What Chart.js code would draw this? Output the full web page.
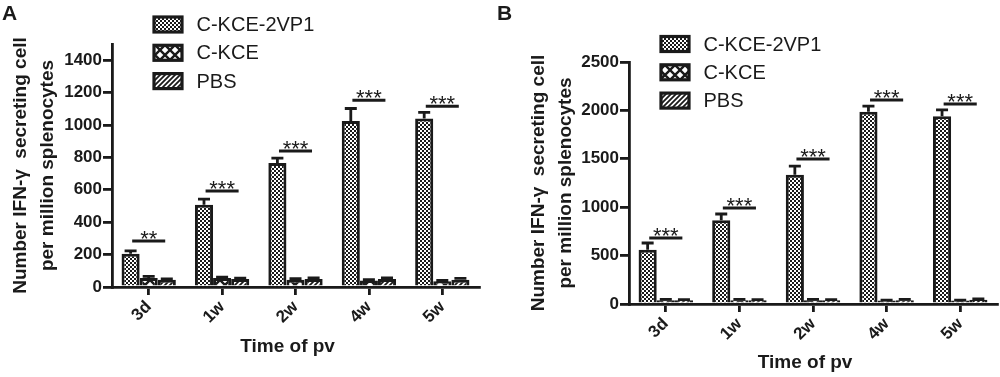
<!DOCTYPE html>
<html><head><meta charset="utf-8">
<script src="https://cdn.jsdelivr.net/npm/chart.js@4.4.1/dist/chart.umd.min.js"></script>
<style>
html,body{margin:0;padding:0;background:#fff;width:1000px;height:377px;overflow:hidden}
#wa{position:absolute;left:0;top:0;width:490px;height:377px}
#wb{position:absolute;left:490px;top:0;width:510px;height:377px}
canvas{display:block}
</style></head><body>
<div id="wa"><canvas id="ca" width="490" height="377"></canvas></div>
<div id="wb"><canvas id="cb" width="510" height="377"></canvas></div>
<script>
// ---------- data ----------
const categories = ['3d', '1w', '2w', '4w', '5w'];
const seriesNames = ['C-KCE-2VP1', 'C-KCE', 'PBS'];
const yTitleLines = ['Number IFN-γ  secreting cell', 'per million splenocytes'];
const xTitle = 'Time of pv';

// Panel A
const aVaccine = [205, 508, 765, 1025, 1040];
const aVaccineErr = [18, 35, 30, 77, 38];
const aCkce = [55, 55, 45, 40, 35];
const aCkceErr = [10, 6, 6, 6, 5];
const aPbs = [45, 50, 50, 50, 45];
const aPbsErr = [5, 5, 6, 6, 8];
const aSigHeight = [284, 592, 839, 1153, 1116];
const aSigLabel = ['**', '***', '***', '***', '***'];
const aYMax = 1500, aYStep = 200;

// Panel B
const bVaccine = [560, 865, 1335, 1985, 1940];
const bVaccineErr = [70, 65, 90, 60, 65];
const bCkce = [40, 40, 40, 35, 35];
const bCkceErr = [8, 8, 8, 6, 6];
const bPbs = [40, 40, 40, 40, 45];
const bPbsErr = [6, 6, 6, 8, 8];
const bSigHeight = [682, 992, 1498, 2107, 2066];
const bSigLabel = ['***', '***', '***', '***', '***'];
const bYMax = 2500, bYStep = 500;

// ---------- styling ----------
const FONT = '"Liberation Sans", Arial, Helvetica, sans-serif';
const INK = '#1a1a1a';
Chart.defaults.font.family = FONT;

function makePattern(ctx, kind) {
  const c = document.createElement('canvas');
  const g = c.getContext('2d');
  let s;
  if (kind === 'check') {
    s = 4; c.width = c.height = s;
    g.fillStyle = '#fff'; g.fillRect(0, 0, s, s);
    g.fillStyle = INK; g.fillRect(0, 0, 2, 2); g.fillRect(2, 2, 2, 2);
  } else if (kind === 'cross') {
    s = 10; c.width = c.height = s;
    g.fillStyle = '#fff'; g.fillRect(0, 0, s, s);
    g.strokeStyle = INK; g.lineWidth = 2.4;
    g.beginPath(); g.moveTo(0, 0); g.lineTo(s, s); g.moveTo(s, 0); g.lineTo(0, s); g.stroke();
  } else {
    s = 5; c.width = c.height = s;
    g.fillStyle = '#fff'; g.fillRect(0, 0, s, s);
    g.strokeStyle = INK; g.lineWidth = 1.8;
    g.beginPath();
    g.moveTo(0, s); g.lineTo(s, 0);
    g.moveTo(-1, 1); g.lineTo(1, -1);
    g.moveTo(s - 1, s + 1); g.lineTo(s + 1, s - 1);
    g.stroke();
  }
  return ctx.createPattern(c, 'repeat');
}

function overlayPlugin(cfg) {
  return {
    id: 'overlay',
    afterDatasetsDraw(chart) {
      const ctx = chart.ctx;
      const xs = chart.scales.x, ys = chart.scales.y;
      ctx.save();
      ctx.strokeStyle = INK;
      ctx.fillStyle = INK;
      // error bars (upper only)
      chart.data.datasets.forEach((ds, i) => {
        const meta = chart.getDatasetMeta(i);
        meta.data.forEach((el, j) => {
          const top = ys.getPixelForValue(ds.data[j] + ds.errors[j]);
          ctx.lineWidth = 2.8;
          ctx.beginPath();
          ctx.moveTo(el.x, el.y);
          ctx.lineTo(el.x, top);
          ctx.moveTo(el.x - 6, top);
          ctx.lineTo(el.x + 6, top);
          ctx.stroke();
        });
      });
      // significance lines and stars
      const catW = xs.width / categories.length;
      categories.forEach((c, j) => {
        const cx = xs.getPixelForValue(j);
        const y = ys.getPixelForValue(cfg.sigHeight[j]);
        ctx.lineWidth = 3;
        ctx.beginPath();
        ctx.moveTo(cx - catW * 0.225, y);
        ctx.lineTo(cx + catW * 0.225, y);
        ctx.stroke();
        ctx.font = '22px ' + FONT;
        ctx.textAlign = 'center';
        ctx.textBaseline = 'alphabetic';
        ctx.fillText(cfg.sigLabel[j], cx, y + 5);
      });
      // legend
      chart.data.datasets.forEach((ds, i) => {
        const cy = cfg.legendY + i * 28.3;
        ctx.fillStyle = ds.backgroundColor;
        ctx.fillRect(cfg.legendX, cy - 7.5, 28, 15);
        ctx.lineWidth = 3.2;
        ctx.strokeStyle = INK;
        ctx.strokeRect(cfg.legendX, cy - 7.5, 28, 15);
        ctx.fillStyle = INK;
        ctx.font = '20px ' + FONT;
        ctx.textAlign = 'left';
        ctx.textBaseline = 'middle';
        ctx.fillText(ds.label, cfg.legendX + 42.5, cy + 1);
      });
      // panel letter
      ctx.font = 'bold 21px ' + FONT;
      ctx.textAlign = 'left';
      ctx.textBaseline = 'alphabetic';
      ctx.fillText(cfg.letter, cfg.letterX, 20);
      ctx.restore();
    }
  };
}

function buildPanel(canvasId, cfg) {
  const ctx = document.getElementById(canvasId).getContext('2d');
  const pats = [makePattern(ctx, 'check'), makePattern(ctx, 'cross'), makePattern(ctx, 'hatch')];
  const values = [cfg.vaccine, cfg.ckce, cfg.pbs];
  const errs = [cfg.vaccineErr, cfg.ckceErr, cfg.pbsErr];
  return new Chart(ctx, {
    type: 'bar',
    data: {
      labels: categories,
      datasets: seriesNames.map((n, i) => ({
        label: n, data: values[i], errors: errs[i],
        backgroundColor: pats[i], borderColor: INK, borderWidth: 3,
        categoryPercentage: 0.74, barPercentage: 1.0
      }))
    },
    options: {
      responsive: false, animation: false, devicePixelRatio: 1,
      layout: { padding: { left: 0, top: cfg.top, right: cfg.right, bottom: 0 } },
      plugins: { legend: { display: false }, tooltip: { enabled: false } },
      scales: {
        x: {
          grid: { offset: false, drawOnChartArea: false, drawTicks: true, tickLength: 8, lineWidth: 2.8, color: INK },
          border: { display: true, width: 2.8, color: INK },
          ticks: { color: INK, font: { family: FONT, size: 17, weight: 'bold' }, minRotation: 45, maxRotation: 45, padding: 2, autoSkip: false },
          title: { display: true, text: xTitle + '   ', color: INK, font: { family: FONT, size: 19, weight: 'bold' }, padding: { top: 0, bottom: cfg.xTitlePad } },
          afterFit(s) { s.height = cfg.xH; }
        },
        y: {
          min: 0, max: cfg.max,
          ticks: { stepSize: cfg.step, includeBounds: false, color: INK, font: { family: FONT, size: 17, weight: 'bold' }, padding: 1,
                   callback: (v) => String(v) },
          grid: { drawOnChartArea: false, drawTicks: true, tickLength: 9, lineWidth: 2.8, color: INK },
          border: { display: true, width: 2.8, color: INK },
          title: { display: true, text: yTitleLines, color: INK, font: { family: FONT, size: 19, weight: 'bold', lineHeight: 1.42 }, padding: { top: cfg.yTitlePad, bottom: 0 } },
          afterFit(s) { s.width = cfg.yW; }
        }
      }
    },
    plugins: [overlayPlugin(cfg)]
  });
}

buildPanel('ca', {
  vaccine: aVaccine, vaccineErr: aVaccineErr, ckce: aCkce, ckceErr: aCkceErr, pbs: aPbs, pbsErr: aPbsErr,
  sigHeight: aSigHeight, sigLabel: aSigLabel, max: aYMax, step: aYStep,
  top: 44, right: 11, yW: 112, xH: 90, yTitlePad: 7, xTitlePad: 18.6,
  legendX: 154, legendY: 24.5, letter: 'A', letterX: 2
});
buildPanel('cb', {
  vaccine: bVaccine, vaccineErr: bVaccineErr, ckce: bCkce, ckceErr: bCkceErr, pbs: bPbs, pbsErr: bPbsErr,
  sigHeight: bSigHeight, sigLabel: bSigLabel, max: bYMax, step: bYStep,
  top: 62, right: 3, yW: 139, xH: 73, yTitlePad: 35.5, xTitlePad: 2.6,
  legendX: 171, legendY: 44, letter: 'B', letterX: 7
});
</script>
</body></html>
